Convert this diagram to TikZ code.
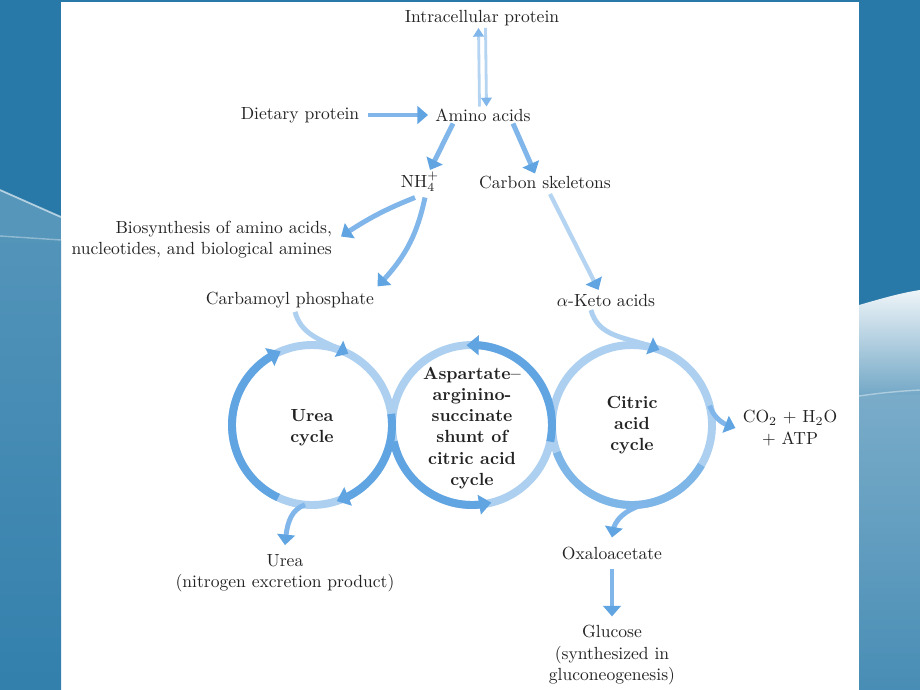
\documentclass[tikz,border=0pt]{standalone}
\usepackage{tikz}
\usetikzlibrary{arrows.meta,bending,calc,positioning}

\definecolor{slideblue}{RGB}{40,121,168}
\definecolor{ringlight}{RGB}{174,208,240}
\definecolor{ringdark}{RGB}{96,164,226}
\definecolor{flowblue}{RGB}{128,182,234}
\definecolor{flowpale}{RGB}{180,212,242}
\definecolor{textgray}{RGB}{35,35,35}

\tikzset{
  lbl/.style={text=textgray, font=\normalsize, inner sep=1pt, align=center},
  cyc/.style={text=textgray, font=\normalsize\bfseries, align=center},
  ring/.style={line width=4.5pt, draw=ringlight},
  ringarc/.style={line width=4.5pt, draw=ringdark, -{Triangle[length=7pt,width=11pt,flex]}},
  flow/.style={line width=2.8pt, draw=flowblue, -{Triangle[length=6pt,width=10pt,flex,color=ringdark]}},
  thinflow/.style={line width=1.6pt, draw=flowpale, -{Triangle[length=5pt,width=6pt,color=flowblue]}},
}

\begin{document}
\begin{tikzpicture}[x=0.02cm,y=0.02cm]
  \useasboundingbox (0,0) rectangle (920,-690);

  % slide background
  \fill[white] (0,0) rectangle (920,-690);
  \fill[slideblue] (0,0) rectangle (61,-690);
  \fill[slideblue] (859,0) rectangle (920,-690);
  \fill[slideblue] (61,0) rectangle (859,-2);
  \shade[top color=slideblue!80!white, bottom color=slideblue!95!white] (0,-236) -- (61,-240) -- (61,-690) -- (0,-690) -- cycle;
  \fill[white,opacity=0.22] (0,-190) -- (61,-217) -- (61,-240) -- (0,-236) -- cycle;
  \draw[white,opacity=0.6,line width=1pt] (0,-190) -- (61,-217);
  \draw[white,opacity=0.35,line width=0.8pt] (0,-236) -- (61,-240);
  \shade[top color=white!92!slideblue, bottom color=slideblue!65!white]
    (859,-305) .. controls (880,-299) and (900,-293) .. (920,-290) -- (920,-395) -- (859,-395) -- cycle;
  \shade[top color=slideblue!62!white, bottom color=slideblue!85!white] (859,-395) rectangle (920,-690);
  \draw[white,opacity=0.4,line width=0.8pt] (859,-396) .. controls (880,-393) and (900,-391) .. (920,-390);

  % texts
  \node[lbl] (intra) at (482,-18) {Intracellular protein};
  \node[lbl] (diet) at (300,-115) {Dietary protein};
  \node[lbl] (amino) at (483,-115) {Amino acids};
  \node[lbl] (nh4) at (420,-182) {NH$_4^+$};
  \node[lbl] (carbon) at (545,-182) {Carbon skeletons};
  \node[lbl,align=right,anchor=east] (biosyn) at (334,-240)
    {Biosynthesis of amino acids,\\nucleotides, and biological amines};
  \node[lbl] (carbamoyl) at (290,-300) {Carbamoyl phosphate};
  \node[lbl] (keto) at (606,-300) {$\alpha$-Keto acids};
  \node[lbl] (co2) at (790,-428) {CO$_2$ + H$_2$O\\+ ATP};
  \node[lbl] (urea) at (285,-573) {Urea\\(nitrogen excretion product)};
  \node[lbl] (oxalo) at (612,-553) {Oxaloacetate};
  \node[lbl] (glucose) at (612,-655) {Glucose\\(synthesized in\\gluconeogenesis)};

  % the three cycles
  \coordinate (cU) at (312,-425);
  \coordinate (cS) at (472,-425);
  \coordinate (cC) at (632,-425);
  \draw[ring] (cU) circle (80);
  \draw[ring] (cS) circle (80);
  \draw[ring] (cC) circle (80);
  \draw[ringarc] ($(cU)+(245:80)$) arc (245:113:80);
  \draw[ringarc] ($(cU)+(8:80)$) arc (8:-72:80);
  \draw[ringarc] ($(cS)+(-12:80)$) arc (-12:94:80);
  \draw[ringarc] ($(cS)+(192:80)$) arc (192:284:80);
  \draw[line width=4.5pt,draw=ringdark!60!ringlight] ($(cC)+(200:80)$) arc (200:330:80);
  \node[cyc] (ureacyc) at (312,-428) {Urea\\cycle};
  \node[cyc] (shunt) at (472,-428) {Aspartate--\\arginino-\\succinate\\shunt of\\citric acid\\cycle};
  \node[cyc] (citric) at (632,-425) {Citric\\acid\\cycle};

  % connectors
  \draw[thinflow] ([xshift=-0.07cm]amino.north) -- ([xshift=-0.07cm]intra.south);
  \draw[thinflow] ([xshift=0.07cm]intra.south) -- ([xshift=0.07cm]amino.north);
  \draw[flow] ([xshift=4pt]diet.east) -- ([xshift=-3pt]amino.west);
  \draw[flow] ([xshift=-0.6cm]amino.south) -- ([xshift=0.2cm]nh4.north);
  \draw[flow] ([xshift=0.6cm]amino.south) -- ([xshift=-0.2cm]carbon.north);
  \draw[flow] ([xshift=-0.1cm,yshift=-2pt]nh4.south) to[bend right=6] ([xshift=4pt,yshift=2pt]biosyn.east);
  \draw[flow] ([xshift=0.1cm,yshift=-2pt]nh4.south) to[bend left=16] ([xshift=1.75cm,yshift=2pt]carbamoyl.north);
  \draw[thinflow,line width=2.4pt,-{Triangle[length=6pt,width=10pt,color=ringdark]}]
    ([xshift=0.1cm,yshift=-2pt]carbon.south) -- ([xshift=-0.15cm,yshift=1pt]keto.north);
  \draw[flow,draw=ringlight] ([xshift=0.1cm,yshift=-1pt]carbamoyl.south) to[out=-75,in=150] ($(cU)+(63:80)$);
  \draw[flow,draw=ringlight] ([xshift=-0.3cm,yshift=-1pt]keto.south) to[out=-75,in=155] ($(cC)+(70:80)$);
  \draw[flow] ($(cU)+(-95:80)$) to[out=200,in=85] ([yshift=4pt]urea.north);
  \draw[flow] ($(cC)+(14:80)$) to[out=-70,in=165] ([xshift=-3pt]co2.west);
  \draw[flow] ($(cC)+(-80:80)$) to[out=195,in=90] ([yshift=4pt]oxalo.north);
  \draw[flow] ([yshift=-4pt]oxalo.south) -- ([yshift=4pt]glucose.north);
\end{tikzpicture}
\end{document}
